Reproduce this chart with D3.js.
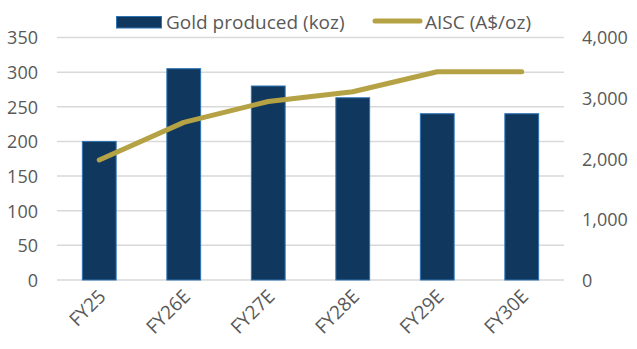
<!DOCTYPE html>
<html><head><meta charset="utf-8">
<script src="https://cdn.jsdelivr.net/npm/d3@7"></script>
<style>body{margin:0;background:#fff}svg{display:block}text{font-family:"Open Sans",sans-serif;fill:#595959}</style>
</head><body><div id="chart"></div>
<script>
const categories = ["FY25","FY26E","FY27E","FY28E","FY29E","FY30E"];
const goldProduced = [200, 305, 280, 263, 240, 240];
const aisc = [1980, 2600, 2945, 3105, 3435, 3435];
const leftTicks = [0,50,100,150,200,250,300,350];
const rightTicks = [0,1000,2000,3000,4000];
const seriesNames = ["Gold produced (koz)", "AISC (A$/oz)"];

const W = 637, H = 349;
const plot = {l:57, r:564, t:37.5, b:280};
const svg = d3.select("#chart").append("svg").attr("width",W).attr("height",H);

const x = d3.scaleBand().domain(categories).range([plot.l, plot.r]).paddingInner(0.6).paddingOuter(0.3);
const yL = d3.scaleLinear().domain([0,350]).range([plot.b, plot.t]);
const yR = d3.scaleLinear().domain([0,4000]).range([plot.b, plot.t]);

// gridlines
svg.append("g").selectAll("line").data(leftTicks).join("line")
  .attr("x1",plot.l).attr("x2",plot.r)
  .attr("y1",d=>yL(d)).attr("y2",d=>yL(d))
  .attr("stroke","#d9d9d9").attr("stroke-width",1.5);

// left axis
const axL = d3.axisLeft(yL).tickValues(leftTicks).tickSize(0).tickPadding(0);
const gL = svg.append("g").attr("transform",`translate(38,0)`).call(axL);
gL.select(".domain").remove();
gL.selectAll("text").style("font-size","18px").attr("fill","#595959").attr("dy","0.35em");

// right axis
const axR = d3.axisRight(yR).tickValues(rightTicks).tickSize(0).tickPadding(0).tickFormat(d3.format(","));
const gR = svg.append("g").attr("transform",`translate(582,0)`).call(axR);
gR.select(".domain").remove();
gR.selectAll("text").style("font-size","18px").attr("fill","#595959").attr("dy","0.35em");

// bars
svg.append("g").selectAll("rect").data(categories).join("rect")
  .attr("x",d=>x(d)).attr("width",x.bandwidth())
  .attr("y",(d,i)=>yL(goldProduced[i])).attr("height",(d,i)=>plot.b-yL(goldProduced[i]))
  .attr("fill","#10385e").attr("stroke","#2e75b6").attr("stroke-width",1);

// line
const line = d3.line().x((d,i)=>x(categories[i])+x.bandwidth()/2).y(d=>yR(d));
svg.append("path").datum(aisc).attr("d",line).attr("fill","none")
  .attr("stroke","#b5a245").attr("stroke-width",5).attr("stroke-linecap","round").attr("stroke-linejoin","round");

// x labels
svg.append("g").selectAll("text").data(categories).join("text")
  .attr("transform",d=>`translate(${x(d)+x.bandwidth()/2+3},293) rotate(-45)`)
  .attr("text-anchor","end").attr("dy","0.35em").style("font-size","19px").text(d=>d);

// legend
const lg = svg.append("g");
lg.append("rect").attr("x",116.5).attr("y",16.5).attr("width",45).attr("height",11.5)
  .attr("fill","#10385e").attr("stroke","#2e75b6").attr("stroke-width",1);
lg.append("text").attr("x",166).attr("y",22).attr("dy","0.35em").style("font-size","19px").text(seriesNames[0]);
lg.append("line").attr("x1",375).attr("x2",420).attr("y1",21).attr("y2",21)
  .attr("stroke","#b5a245").attr("stroke-width",5).attr("stroke-linecap","round");
lg.append("text").attr("x",425).attr("y",22).attr("dy","0.35em").style("font-size","19px").text(seriesNames[1]);
</script></body></html>
